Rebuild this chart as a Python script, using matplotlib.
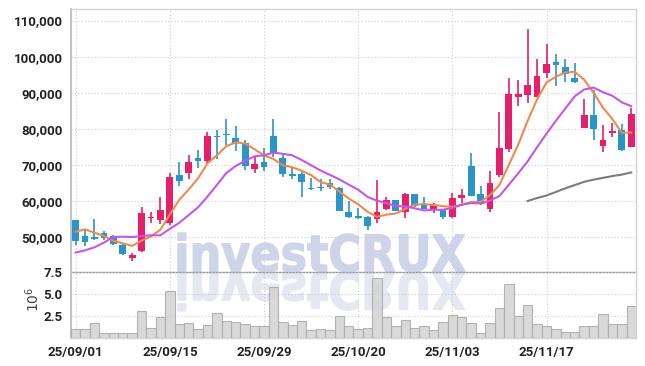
import numpy as np
import matplotlib
matplotlib.use("Agg")
import matplotlib.pyplot as plt
from matplotlib.textpath import TextPath
from matplotlib.font_manager import FontProperties
from matplotlib.patches import PathPatch
from matplotlib.transforms import Affine2D

# daily candles, 2025-09-01 .. 2025-11-28 (60 trading days)
opens = [54600, 50200, 49900, 51200, 50300, 47800, 44100, 46000, 55200, 54700,
         54000, 67100, 67800, 72000, 71000, 77800, 78500, 77500, 76100, 68900,
         70700, 78100, 71800, 67600, 67600, 63600, 64000, 65000, 63600, 56800,
         55700, 55500, 55100, 57800, 60200, 57000, 61800, 59200, 57900, 57700,
         55500, 60800, 69800, 62000, 57900, 67100, 74400, 88700, 89500, 88700,
         95600, 98600, 97200, 94200, 80300, 83900, 75200, 78700, 79800, 75000]
highs = [54700, 51900, 54900, 51800, 50600, 48100, 45700, 58400, 56900, 61200,
         67700, 70900, 72600, 74000, 79000, 79800, 82700, 80900, 77000, 72200,
         74700, 82700, 72900, 69200, 68300, 66400, 66100, 66200, 63800, 59900,
         58100, 55900, 65700, 61200, 60300, 62100, 61900, 61200, 59500, 57800,
         62100, 63200, 73300, 64100, 68400, 84700, 94100, 93400, 107600, 99300,
         103500, 100800, 99300, 98200, 88300, 90800, 81000, 81600, 81200, 85800]
lows = [47700, 47500, 49200, 49300, 47900, 45100, 43400, 45800, 54000, 53500,
        53400, 64100, 66000, 69200, 70600, 71500, 75600, 73800, 68700, 67800,
        68400, 72100, 66600, 66000, 61200, 62900, 62700, 63200, 57200, 55300,
        54900, 51900, 54000, 57400, 57100, 55400, 58400, 57700, 56700, 55100,
        55300, 59500, 61300, 59000, 57000, 66700, 73500, 86200, 87200, 88700,
        94100, 91900, 92900, 92700, 80300, 77000, 73600, 77700, 73800, 75000]
closes = [48900, 48600, 49500, 49600, 48200, 45400, 45100, 56700, 55500, 57400,
          66500, 65500, 70900, 71100, 78100, 77600, 78200, 76100, 69600, 70100,
          69300, 73100, 67400, 66900, 65200, 63200, 63500, 63900, 57200, 55500,
          55300, 53000, 57000, 60200, 57200, 61800, 58600, 57900, 59000, 55500,
          60700, 61700, 61500, 59200, 65000, 74700, 89700, 89700, 92100, 94700,
          98000, 97800, 95300, 93100, 83800, 80000, 77000, 79500, 74100, 84200]
# volume in millions of shares
volumes = [0.97, 0.97, 1.76, 0.52, 0.52, 0.52, 0.52, 3.11, 1.08, 2.43,
           5.36, 1.64, 1.76, 0.97, 1.53, 2.88, 1.98, 1.87, 1.64, 1.31,
           1.42, 5.81, 1.87, 1.53, 1.98, 0.86, 0.97, 0.86, 2.54, 1.31,
           0.97, 1.19, 6.86, 2.43, 1.31, 2.09, 1.08, 1.31, 0.86, 1.87,
           2.66, 2.43, 1.76, 0.52, 1.76, 3.45, 6.15, 2.54, 3.78, 1.64,
           1.31, 0.97, 0.63, 0.63, 1.31, 1.42, 2.77, 1.64, 1.64, 3.67]

# moving averages as drawn on the chart
ma5 = [51500, 52100, 51200, 50300, 48960, 48260, 47560, 49000, 50180, 52020,
       56240, 60320, 63160, 66280, 70420, 72640, 75180, 76220, 75920, 74320,
       72660, 71640, 69900, 69360, 68380, 67160, 65240, 64540, 62600, 60660,
       59080, 56980, 55600, 56200, 56540, 57840, 58960, 59140, 58900, 58560,
       58340, 58960, 59680, 59720, 61620, 64420, 70020, 75660, 82240, 88180,
       92840, 94460, 95580, 95780, 93600, 90000, 85840, 82680, 78880, 78960]
ma10 = [45700, 46300, 47150, 48450, 50000, 50100, 50000, 50300, 50470, 50490,
        52250, 53940, 56080, 58230, 61220, 64440, 67750, 69690, 71100, 72370,
        72650, 73410, 73060, 72640, 71350, 69910, 68440, 67220, 65980, 64520,
        63120, 61110, 60070, 59400, 58600, 58460, 57970, 57370, 57550, 57550,
        58090, 58960, 59410, 59310, 60090, 61380, 64490, 67670, 70980, 74900,
        78630, 82240, 85620, 89010, 90890, 91420, 90150, 89130, 87330, 86280]
ma60_start = 48
ma60 = [60000, 60800, 61500, 62500, 63500, 64400, 65300, 65900, 66400, 66900,
        67300, 67900]

tick_idx = [0, 10, 20, 30, 40, 50]
tick_labels = ["25/09/01", "25/09/15", "25/09/29", "25/10/20", "25/11/03", "25/11/17"]

UP = "#e41f6c"
DOWN = "#2a95c9"
GRID = "#c9cbdb"
LABEL_FONT = ["Roboto", "DejaVu Sans"]

o = np.array(opens, dtype=float)
h = np.array(highs, dtype=float)
l = np.array(lows, dtype=float)
c = np.array(closes, dtype=float)
x = np.arange(len(c))
colors = np.where(c >= o, UP, DOWN)

fig = plt.figure(figsize=(6.45, 3.66), dpi=100)
fig.patch.set_facecolor("white")
ax = fig.add_axes([0.110, 0.2568, 0.876, 0.7186])
axv = fig.add_axes([0.110, 0.0765, 0.876, 0.1803], sharex=ax)
for a in (ax, axv):
    a.set_facecolor("none")

# watermark plus its mirror image in the volume pane
fp = FontProperties(family="DejaVu Sans", weight="bold")
tp = TextPath((0, 0), "investCRUX", size=50, prop=fp)
ext = tp.get_extents()
sx = 287.0 / ext.width
sy = 39.0 / ext.height
base = Affine2D().translate(-ext.x0, -ext.y0)
wm = PathPatch(tp, transform=base + Affine2D().scale(sx, sy).translate(178, 94),
               facecolor="#cfd5e8", edgecolor="#cfd5e8", linewidth=1.0, zorder=-5)
wm_r = PathPatch(tp, transform=base + Affine2D().scale(sx, -sy).translate(178, 94),
                 facecolor="#e6e8f1", edgecolor="#e6e8f1", linewidth=1.0, zorder=-5)
fig.add_artist(wm)
fig.add_artist(wm_r)

# candles
ax.vlines(x, l, h, colors=colors, linewidth=1.2, zorder=3)
body_lo = np.minimum(o, c)
body_h = np.maximum(np.abs(c - o), 300)
ax.bar(x, body_h, bottom=body_lo, width=0.72, color=colors, linewidth=0, zorder=4)

ax.plot(x, ma5, color="#f08a4c", linewidth=1.5, zorder=5)
ax.plot(x, ma10, color="#c855ea", linewidth=1.5, zorder=5)
ax.plot(np.arange(ma60_start, ma60_start + len(ma60)), ma60, color="#7c7c7c",
        linewidth=1.5, zorder=5)

ax.set_xlim(-0.5, len(c) - 0.5)
ax.set_ylim(40300, 113200)
ax.set_yticks(np.arange(50000, 110001, 10000))
ax.set_yticklabels(["{:,}".format(v) for v in range(50000, 110001, 10000)])

# volume
axv.bar(x, volumes, width=1.0, color="#d5d5d5", edgecolor="#adadad",
        linewidth=0.8, alpha=0.9, zorder=3)
axv.set_ylim(0, 7.5)
axv.set_yticks([2.5, 5.0, 7.5])
axv.set_yticklabels(["2.5", "5.0", "7.5"])
axv.set_xticks(tick_idx)
axv.set_xticklabels(tick_labels)
axv.text(-0.067, 0.58, r"$10^6$", transform=axv.transAxes, rotation=90,
         fontsize=10, color="#444444", ha="center", va="center")

for a in (ax, axv):
    a.grid(True, linestyle=(0, (1, 2)), color=GRID, linewidth=0.8)
    a.set_axisbelow(True)
    a.tick_params(length=0, pad=6, labelsize=9.5, labelcolor="#222222")
    for lab in a.get_xticklabels() + a.get_yticklabels():
        lab.set_family(LABEL_FONT)
        lab.set_fontweight("bold")
    for s in a.spines.values():
        s.set_color("#d4d4d4")
        s.set_linewidth(1.0)
    a.spines["left"].set_color("#c4c4c4")
    a.spines["left"].set_linewidth(1.5)
ax.set_xticks(tick_idx)
ax.tick_params(labelbottom=False)
ax.spines["bottom"].set_color("#9a9a9a")
axv.spines["top"].set_visible(False)

fig.savefig("out.png", dpi=100, facecolor="white")
